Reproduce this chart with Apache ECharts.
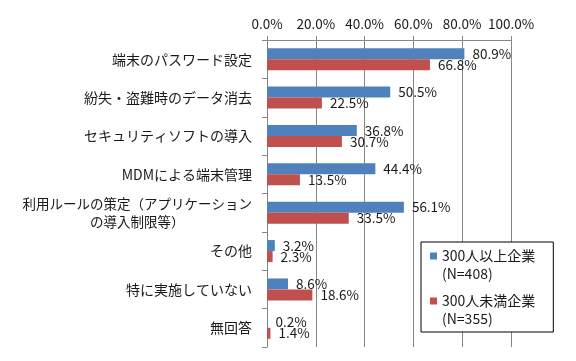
<!DOCTYPE html>
<html><head><meta charset="utf-8">
<script src="https://cdn.jsdelivr.net/npm/echarts@6/dist/echarts.min.js"></script>
<style>html,body{margin:0;padding:0;background:#fff}#c{width:576px;height:361px}</style>
</head><body><div id="c"></div>
<script>
const categories = ['端末のパスワード設定','紛失・盗難時のデータ消去','セキュリティソフトの導入','MDMによる端末管理','利用ルールの策定（アプリケーションの導入制限等）','その他','特に実施していない','無回答'];
const seriesLarge = [80.9, 50.5, 36.8, 44.4, 56.1, 3.2, 8.6, 0.2];
const seriesSmall = [66.8, 22.5, 30.7, 13.5, 33.5, 2.3, 18.6, 1.4];
const seriesNames = ['300人以上企業\n(N=408)', '300人未満企業\n(N=355)'];
const xTicks = [0, 20, 40, 60, 80, 100];

const FONT = 'Noto Sans CJK JP';
const TXT = '#1a1a1a';
const iconPath = 'path://M0,5.5h7v7h-7z M0,0h0.01v0.01h-0.01z M6.99,35.99h0.01v0.01h-0.01z';

const chart = echarts.init(document.getElementById('c'), null, {renderer: 'canvas'});
const labelCfg = {show: true, position: 'right', distance: 8, color: TXT, fontFamily: FONT, fontSize: 13.5,
  formatter: p => p.value.toFixed(1) + '%'};
chart.setOption({
  animation: false,
  textStyle: {fontFamily: FONT},
  grid: {left: 267, right: 65, top: 40, bottom: 14, containLabel: false},
  xAxis: {
    type: 'value', position: 'top', min: xTicks[0], max: xTicks[xTicks.length - 1], interval: 20,
    axisLine: {show: true, lineStyle: {color: '#868686'}},
    axisTick: {show: true, length: 4, lineStyle: {color: '#868686'}},
    splitLine: {show: true, lineStyle: {color: '#868686', width: 1}},
    axisLabel: {color: TXT, fontFamily: FONT, fontSize: 13.5, margin: 9, formatter: v => v.toFixed(1) + '%'}
  },
  yAxis: {
    type: 'category', data: categories, inverse: true,
    axisLine: {show: true, lineStyle: {color: '#868686'}},
    axisTick: {show: true, length: 5, lineStyle: {color: '#868686'}},
    axisLabel: {color: TXT, fontFamily: FONT, fontSize: 14, margin: 15, lineHeight: 18,
      formatter: function (v) {
        if (v.indexOf('（') > 0) {
          const i = v.indexOf('の導入制限');
          return '{c|' + v.slice(0, i) + '}\n{c|' + v.slice(i) + '}';
        }
        return v;
      },
      rich: {c: {align: 'center', fontSize: 13.5, lineHeight: 18, color: TXT, fontFamily: FONT}}
    }
  },
  legend: {
    orient: 'vertical', left: 421, top: 242,
    backgroundColor: '#fff', borderColor: '#000', borderWidth: 1,
    padding: [5, 18, 4, 9], itemGap: 9,
    itemWidth: 7, itemHeight: 36, icon: iconPath,
    textStyle: {color: TXT, fontFamily: FONT, fontSize: 14, lineHeight: 18}
  },
  series: [
    {name: seriesNames[0], type: 'bar', data: seriesLarge, barWidth: 11, barGap: '0%',
      itemStyle: {color: '#4F81BD'}, label: labelCfg},
    {name: seriesNames[1], type: 'bar', data: seriesSmall, barWidth: 11, barGap: '0%',
      itemStyle: {color: '#C0504D'}, label: labelCfg}
  ]
});
</script></body></html>
